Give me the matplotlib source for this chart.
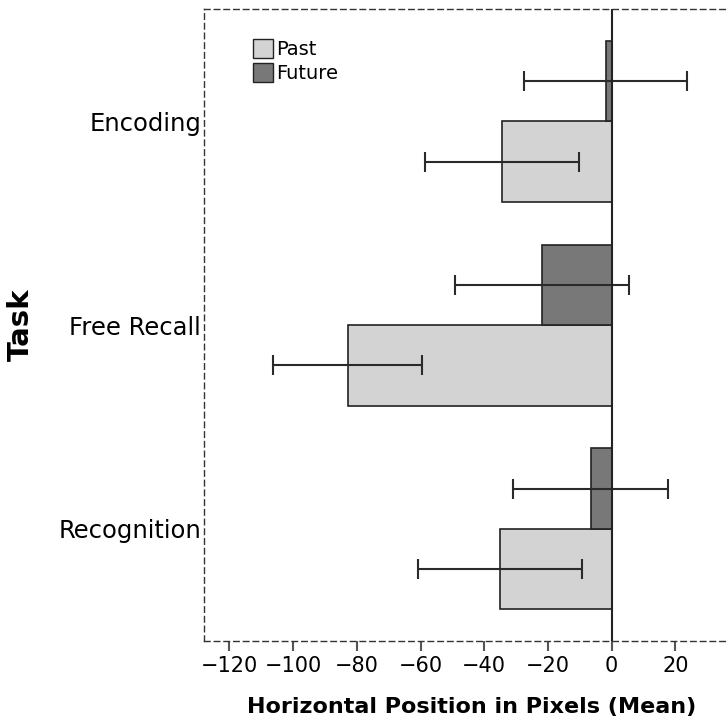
import numpy as np
import matplotlib
matplotlib.use('Agg')
import matplotlib.pyplot as plt
from matplotlib.patches import Patch

tasks = ['Encoding', 'Free Recall', 'Recognition']
past_mean = [-34.4, -82.9, -35.1]
past_err = [24.2, 23.4, 25.7]
future_mean = [-1.9, -21.9, -6.6]
future_err = [25.5, 27.2, 24.3]
xticks = [-120, -100, -80, -60, -40, -20, 0, 20]

fig = plt.figure(figsize=(7.28, 7.24), dpi=100)
ax = fig.add_axes([0.2802, 0.115, 0.735, 0.872])

pos = np.arange(len(tasks))
h = 0.395
ax.barh(pos + h/2, past_mean, height=h, color='#d3d3d3', edgecolor='#222222', lw=1.2, zorder=2)
ax.barh(pos - h/2, future_mean, height=h, color='#787878', edgecolor='#222222', lw=1.2, zorder=2)
ax.errorbar(past_mean, pos + h/2, xerr=past_err, fmt='none', ecolor='#2a2a2a',
            elinewidth=1.5, capsize=7, capthick=1.5, zorder=3)
ax.errorbar(future_mean, pos - h/2, xerr=future_err, fmt='none', ecolor='#2a2a2a',
            elinewidth=1.5, capsize=7, capthick=1.5, zorder=3)
ax.axvline(0, color='#222222', lw=1.5, zorder=4)

ax.set_xlim(-128, 40)
ax.set_ylim(2.55, -0.55)
ax.set_xticks(xticks)
ax.set_xticklabels(['\u2212%d' % -t if t < 0 else str(t) for t in xticks], fontsize=15)
ax.set_yticks(pos)
ax.set_yticklabels(tasks, fontsize=17.5)
ax.tick_params(axis='y', length=0, pad=2)
ax.tick_params(axis='x', length=7, width=1.5, color='#555555', direction='out', pad=4)

for s in ['top', 'left', 'bottom']:
    ax.spines[s].set_linestyle((0, (4, 3)))
    ax.spines[s].set_color('#333333')
    ax.spines[s].set_linewidth(1.0)
ax.spines['right'].set_visible(False)

ax.set_xlabel('Horizontal Position in Pixels (Mean)', fontsize=16, fontweight='bold', labelpad=15)
ax.set_ylabel('Task', fontsize=21, fontweight='bold')
ax.yaxis.set_label_coords(-0.316, 0.5)

handles = [Patch(facecolor='#d3d3d3', edgecolor='#222222', label='Past'),
           Patch(facecolor='#787878', edgecolor='#222222', label='Future')]
ax.legend(handles=handles, loc='upper left', bbox_to_anchor=(0.0916, 0.953), frameon=False,
          fontsize=14, handlelength=1.05, handleheight=1.1, handletextpad=0.15,
          labelspacing=0.2, borderaxespad=0, borderpad=0)

fig.savefig('out.png', dpi=100)
